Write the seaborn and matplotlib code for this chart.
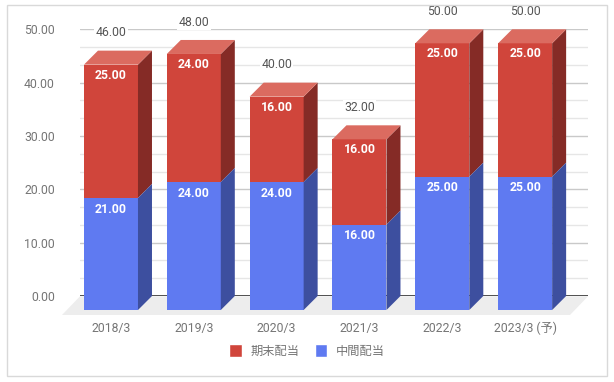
import matplotlib
matplotlib.use("Agg")
import matplotlib.pyplot as plt
import seaborn as sns
from matplotlib.patches import Patch, Polygon, Rectangle
from matplotlib.ticker import AutoMinorLocator

# DATA
years = ["2018/3", "2019/3", "2020/3", "2021/3", "2022/3", "2023/3 (予)"]
interim = [21, 24, 24, 16, 25, 25]
final = [25, 24, 16, 16, 25, 25]
totals = [46, 48, 40, 32, 50, 50]
y_ticks = [0, 10, 20, 30, 40, 50]

# COLOURS
blue, blue_side = "#5F7AF1", "#3D4F9F"
red, red_side, red_top = "#D0453B", "#852B26", "#DB6B60"
grey = "#757575"

W, H = 614, 382
DEPTH = 14  # pixels from the front plane to the back wall

sns.set_theme(style="white")
plt.rcParams["font.family"] = ["Roboto", "Noto Sans CJK JP", "DejaVu Sans"]
fig = plt.figure(figsize=(W / 100, H / 100), dpi=100)


def px_axes(left, right, top, bottom):
    return fig.add_axes([left / W, 1 - bottom / H, (right - left) / W, (bottom - top) / H])


# outer frame
fig.add_artist(Rectangle((6.5 / W, 1 - 376 / H), 600.5 / W, 371.5 / H, transform=fig.transFigure,
                         facecolor="none", edgecolor="#D9D9D9", linewidth=1))

# BACK WALL: value axis and grid
back = px_axes(80, 588, 29.3, 296)
back.set_xlim(0, 1)
back.set_ylim(0, 50)
back.set_yticks(y_ticks)
back.set_yticklabels([f"{v:.2f}" for v in y_ticks], fontsize=8.8, color=grey)
back.yaxis.set_minor_locator(AutoMinorLocator(3))
back.set_xticks([])
back.tick_params(axis="y", which="both", length=0, pad=18)
back.grid(axis="y", which="major", color="#C9C9C9", linewidth=1)
back.grid(axis="y", which="minor", color="#E6E6E6", linewidth=1)
back.axhline(0, color="#333333", linewidth=1.2, zorder=3)
sns.despine(ax=back, left=True, bottom=True)
back.patch.set_alpha(0)

# floor
ppy = (296 - 29.3) / 50
floor_y = -19 / ppy
back.add_patch(Polygon([(0, -0.3 / ppy), (1, -0.3 / ppy), (1 - 18 / 508, floor_y), (-18 / 508, floor_y)],
                       facecolor="#EDEDED", edgecolor="none", clip_on=False, zorder=2))

# FRONT PLANE: bars, moved forward by the depth
front = px_axes(80 - DEPTH, 588 - DEPTH, 29.3 + DEPTH, 296 + DEPTH)
front.patch.set_alpha(0)
sns.barplot(x=years, y=totals, color=red, saturation=1, width=0.652, linewidth=0, ax=front)
sns.barplot(x=years, y=interim, color=blue, saturation=1, width=0.652, linewidth=0, ax=front)
front.set_xlim(-0.543, 5.59)
front.set_ylim(0, 50)
front.set_yticks([])
front.set_ylabel("")
front.tick_params(axis="x", length=0, pad=8.6, labelsize=8.8, labelcolor=grey)
sns.despine(ax=front, left=True, bottom=True)

ppx = 508 / (5.59 + 0.543)
dx, dy = DEPTH / ppx, DEPTH / ppy

# 3D faces from the bars seaborn drew
bars = list(front.patches)
red_bars, blue_bars = bars[:6], bars[6:]
for bar, low in zip(red_bars, interim):
    x0, x1, top = bar.get_x(), bar.get_x() + bar.get_width(), bar.get_height()
    front.add_patch(Polygon([(x1, low), (x1 + dx, low + dy), (x1 + dx, top + dy), (x1, top)],
                            facecolor=red_side, edgecolor="none", clip_on=False))
    front.add_patch(Polygon([(x0, top), (x1, top), (x1 + dx, top + dy), (x0 + dx, top + dy)],
                            facecolor=red_top, edgecolor="none", clip_on=False))
for bar in blue_bars:
    x1, top = bar.get_x() + bar.get_width(), bar.get_height()
    front.add_patch(Polygon([(x1, 0), (x1 + dx, dy), (x1 + dx, top + dy), (x1, top)],
                            facecolor=blue_side, edgecolor="none", clip_on=False))

# LABELS
for i in range(len(years)):
    front.annotate(f"{final[i]:.2f}", (i, totals[i]), xytext=(0, -7.5), textcoords="offset points",
                   ha="center", va="center", color="white", fontsize=8.8, fontweight="bold", zorder=6)
    front.annotate(f"{interim[i]:.2f}", (i, interim[i]), xytext=(0, -8), textcoords="offset points",
                   ha="center", va="center", color="white", fontsize=8.8, fontweight="bold", zorder=6)
    front.annotate(f"{totals[i]:.2f}", (i, totals[i]), xytext=(0, 23), textcoords="offset points",
                   ha="center", va="center", color="#555555", fontsize=8.8, zorder=6, annotation_clip=False,
                   bbox=dict(facecolor="white", edgecolor="none", pad=1))

# LEGEND
handles = [Patch(facecolor=red, label="期末配当"), Patch(facecolor=blue, label="中間配当")]
fig.legend(handles=handles, loc="center", bbox_to_anchor=(307 / W, 1 - 351 / H), ncol=2, frameon=False,
           fontsize=8.8, labelcolor=grey, handlelength=1, handleheight=1.2, handletextpad=0.7, columnspacing=1.3)

plt.savefig("out.png", dpi=100)
plt.close()
